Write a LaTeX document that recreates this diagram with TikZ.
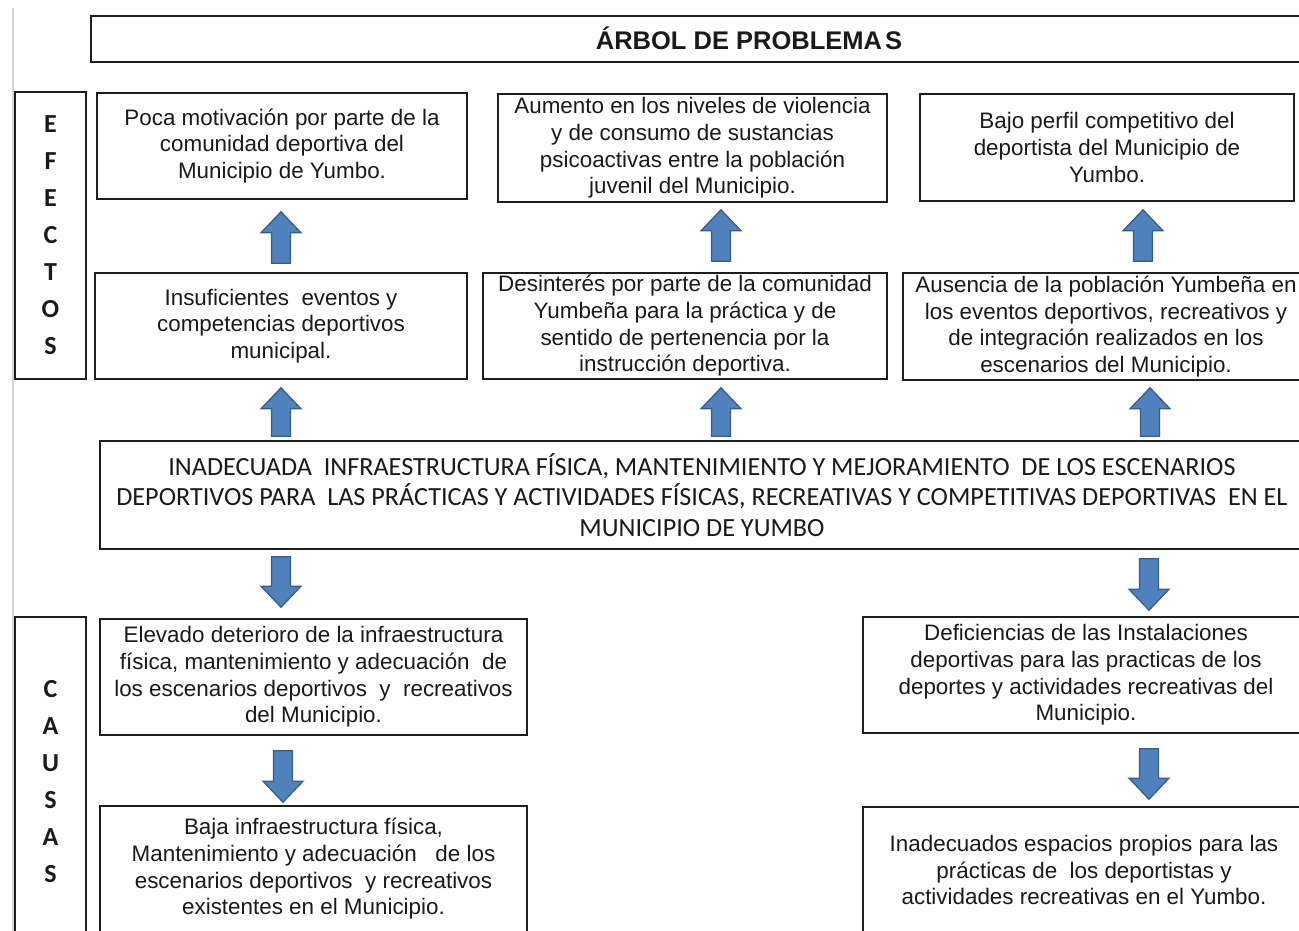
\documentclass[tikz,border=0pt]{standalone}
\usepackage{fontspec}
\setmainfont{Liberation Sans}
\newfontfamily\calfont{Carlito}
\usetikzlibrary{calc}
\definecolor{arrowfill}{HTML}{4F81BD}
\definecolor{arrowedge}{HTML}{385D8A}
\definecolor{boxline}{HTML}{1E1E1E}
\definecolor{pageedge}{HTML}{D4D4D4}
\definecolor{txt}{HTML}{1A1A1A}
\begin{document}
\begin{tikzpicture}[x=1pt,y=-1pt,
  box/.style={draw=boxline, line width=1.6pt, align=center, inner sep=0pt,
    text=txt, font=\fontsize{22.4}{26.7}\selectfont},
  sidebox/.style={draw=boxline, line width=1.6pt, align=center, inner sep=0pt,
    text=txt, font=\calfont\bfseries\fontsize{26}{37}\selectfont},
  centralbox/.style={draw=boxline, line width=1.6pt, align=center, inner sep=0pt,
    text=txt, font=\calfont\fontsize{26.2}{30.5}\selectfont},
  titlebox/.style={draw=boxline, line width=1.6pt, align=center, inner sep=0pt,
    text=txt, font=\bfseries\fontsize{25.5}{28}\selectfont},
  blockarrow/.style={draw=arrowedge, fill=arrowfill, line width=1.3pt, line join=miter,
    to path={let \p1=(\tikztostart), \p2=(\tikztotarget), \n1={sign(\y2-\y1)*21} in
      (\x1-9.5,\y1) -- (\x1-9.5,\y2-\n1) -- (\x1-20,\y2-\n1) -- (\x1,\y2)
      -- (\x1+20,\y2-\n1) -- (\x1+9.5,\y2-\n1) -- (\x1+9.5,\y1) -- cycle}}
]
\useasboundingbox (0,0) rectangle (1299,930);
\clip (0,0) rectangle (1299,930);
\fill[white] (0,0) rectangle (1299,930);
\draw[pageedge, line width=2pt] (13,8) -- (13,935);

% title
\node[titlebox, minimum width=1316pt, minimum height=46pt, text depth=0pt] (title) at (749,39)
  {\raisebox{1.5pt}{ÁRBOL DE PROBLEMA\hspace{3pt}S}};

% side labels
\node[sidebox, minimum width=71pt, minimum height=287pt] (efectos) at (50.5,235.5) {E\\F\\E\\C\\T\\O\\S};
\node[sidebox, minimum width=71pt, minimum height=329pt] (causas) at (50.5,781.5) {C\\A\\U\\S\\A\\S};

% effects, top row
\node[box, minimum width=370pt, minimum height=106pt] (poca) at (282,146)
  {Poca motivación por parte de la\\comunidad deportiva del\\Municipio de Yumbo.};
\node[box, minimum width=389pt, minimum height=108pt] (aum) at (692.5,148)
  {Aumento en los niveles de violencia\\y de consumo de sustancias\\psicoactivas entre la población\\juvenil del Municipio.};
\node[box, minimum width=374pt, minimum height=107pt] (bajo) at (1107,147.5)
  {Bajo perfil competitivo del\\deportista del Municipio de\\Yumbo.};

% effects, second row
\node[box, minimum width=372pt, minimum height=106pt] (ins) at (281,326)
  {Insuficientes~ eventos y\\competencias deportivos\\municipal.};
\node[box, minimum width=404pt, minimum height=106pt] (des) at (685,326)
  {Desinterés por parte de la comunidad\\Yumbeña para la práctica y de\\sentido de pertenencia por la\\instrucción deportiva.};
\node[box, minimum width=406pt, minimum height=107pt] (aus) at (1106,326.5)
  {Ausencia de la población Yumbeña en\\los eventos deportivos, recreativos y\\de integración realizados en los\\escenarios del Municipio.};

% central problem
\node[centralbox, minimum width=1204pt, minimum height=108pt] (central) at (702,495)
  {\raisebox{3pt}{\parbox{1200pt}{\centering
   INADECUADA~ INFRAESTRUCTURA FÍSICA, MANTENIMIENTO Y MEJORAMIENTO~ DE LOS ESCENARIOS\\
   DEPORTIVOS PARA~ LAS PRÁCTICAS Y ACTIVIDADES FÍSICAS, RECREATIVAS Y COMPETITIVAS DEPORTIVAS~ EN EL\\
   MUNICIPIO DE YUMBO}}};

% causes
\node[box, minimum width=427pt, minimum height=116pt] (elev) at (313.5,677)
  {Elevado deterioro de la infraestructura\\física, mantenimiento y adecuación~ de\\los escenarios deportivos~ y~ recreativos\\del Municipio.};
\node[box, minimum width=427pt, minimum height=126pt] (baja) at (313.5,869)
  {Baja infraestructura física,\\Mantenimiento y adecuación~~ de los\\escenarios deportivos~ y recreativos\\existentes en el Municipio.};
\node[box, minimum width=446pt, minimum height=116pt] (def) at (1086,675)
  {Deficiencias de las Instalaciones\\deportivas para las practicas de los\\deportes y actividades recreativas del\\Municipio.};
\node[box, minimum width=442pt, minimum height=126pt] (inad) at (1084,870)
  {Inadecuados espacios propios para las\\prácticas de~ los deportistas y\\actividades recreativas en el Yumbo.};

% block arrows
\draw[blockarrow] ([shift={(0,-9)}]ins.north) to ([shift={(-1,12)}]poca.south);
\draw[blockarrow] ([shift={(36,-11)}]des.north) to ([shift={(28.5,7)}]aum.south);
\draw[blockarrow] ([shift={(37,-11)}]aus.north) to ([shift={(36,8)}]bajo.south);
\draw[blockarrow] ([shift={(-421,-4)}]central.north) to ([shift={(0,8)}]ins.south);
\draw[blockarrow] ([shift={(19,-4)}]central.north) to ([shift={(36,8)}]des.south);
\draw[blockarrow] ([shift={(448,-4)}]central.north) to ([shift={(44,7)}]aus.south);
\draw[blockarrow] ([shift={(-421,7)}]central.south) to ([shift={(-32.5,-11)}]elev.north);
\draw[blockarrow] ([shift={(447,9)}]central.south) to ([shift={(63,-6)}]def.north);
\draw[blockarrow] ([shift={(-30.5,15)}]elev.south) to ([shift={(-30.5,-3)}]baja.north);
\draw[blockarrow] ([shift={(63,15)}]def.south) to ([shift={(65,-7)}]inad.north);
\end{tikzpicture}
\end{document}
